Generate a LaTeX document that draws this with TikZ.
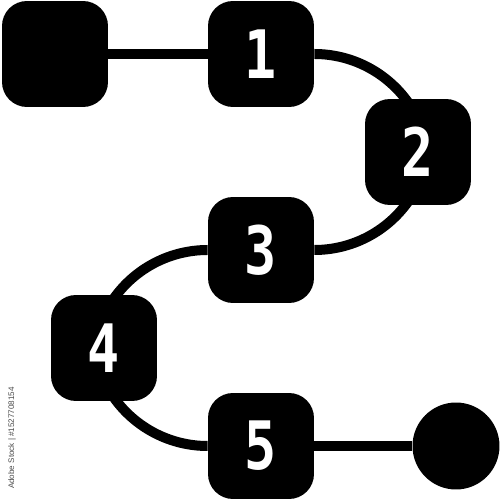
\documentclass[tikz,border=0pt]{standalone}
\usepackage{fontspec}
\newfontfamily\digitfont{DejaVu Sans Mono}
\newfontfamily\markfont{Liberation Sans}
\usetikzlibrary{backgrounds}
\begin{document}
\begin{tikzpicture}[x=0.02cm,y=0.02cm,
  stepbox/.style={fill=black,minimum size=2.12cm,rounded corners=0.5cm,inner sep=0pt,
    text=white,font=\digitfont\bfseries\fontsize{38}{38}\selectfont},
  link/.style={line width=0.2cm,black},
  endpoint/.style={circle,fill=black,minimum size=1.74cm,inner sep=0pt}]
\useasboundingbox (0,0) rectangle (500,500);
\node[stepbox] (n0) at (55,446) {};
\node[stepbox] (n1) at (261,446) {\scalebox{0.8}[1]{1}};
\node[stepbox] (n2) at (418,348) {\scalebox{0.8}[1]{2}};
\node[stepbox] (n3) at (261,250) {\scalebox{0.8}[1]{3}};
\node[stepbox] (n4) at (104,152) {\scalebox{0.8}[1]{4}};
\node[stepbox] (n5) at (261,54) {\scalebox{0.8}[1]{5}};
\node[endpoint] (end) at (456,54) {};
\node[rotate=90,text=black!70,font=\markfont\fontsize{4.6}{5}\selectfont,inner sep=0pt] (wm) at (12,62) {Adobe Stock | \#1527708154};
\begin{scope}[on background layer]
\draw[link] (n0.east) -- (n1.west);
\draw[link] (n1.east) arc[start angle=90,end angle=35,radius=115];
\draw[link] (n3.east) arc[start angle=-90,end angle=-35,radius=115];
\draw[link] (n3.west) arc[start angle=90,end angle=145,radius=115];
\draw[link] (n5.west) arc[start angle=-90,end angle=-145,radius=115];
\draw[link] (n5.east) -- (end.west);
\end{scope}
\end{tikzpicture}
\end{document}
